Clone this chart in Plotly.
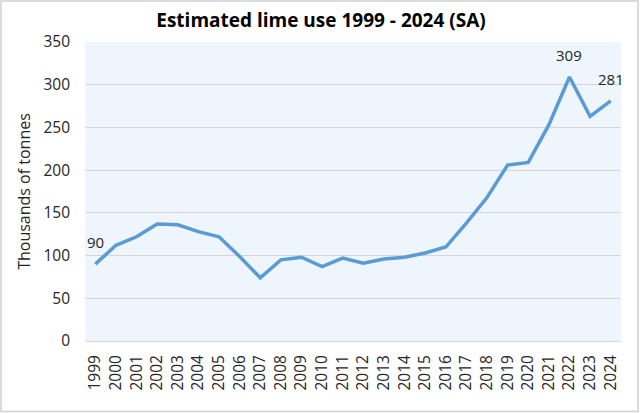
import plotly.graph_objects as go

years = list(range(1999, 2025))
lime_use = [90, 112, 122, 137, 136, 128, 122, 99, 74, 95, 98, 87, 97, 91, 96, 98, 103, 110, 138, 168, 206, 209, 253, 309, 263, 281]
labelled_years = [1999, 2022, 2024]
y_ticks = [0, 50, 100, 150, 200, 250, 300, 350]

FONT = "Open Sans"
W, H = 642, 413
L, R, T, B = 85, 21, 42, 72
pw, ph = W - L - R, H - T - B

fig = go.Figure()
fig.add_trace(go.Scatter(
    x=years, y=lime_use, mode="lines",
    line=dict(color="#5B9BD5", width=3.5),
    hoverinfo="x+y", showlegend=False,
))

for yr in labelled_years:
    v = lime_use[years.index(yr)]
    fig.add_annotation(x=yr, y=v, text=str(v), showarrow=False,
                       yanchor="middle", yshift=22,
                       font=dict(family=FONT, size=15, color="#262626"))

def px_to_paper_x(px):
    return (px - L) / pw

def px_to_paper_y(py):
    return (H - B - py) / ph

# outer chart border
fig.add_shape(type="rect", xref="paper", yref="paper",
              x0=px_to_paper_x(1), x1=px_to_paper_x(638),
              y0=px_to_paper_y(411.5), y1=px_to_paper_y(1),
              line=dict(color="#D0D0D0", width=1.5), layer="below")

fig.update_layout(
    width=W, height=H,
    margin=dict(l=L, r=R, t=T, b=B),
    paper_bgcolor="white",
    plot_bgcolor="#EEF5FC",
    title=dict(text="<b>Estimated lime use 1999 - 2024 (SA)</b>",
               x=0.5, xanchor="center", y=1 - 20 / H, yanchor="middle",
               font=dict(family=FONT, size=19, color="#000000")),
    font=dict(family=FONT, size=15, color="#262626"),
    xaxis=dict(
        range=[1998.5, 2024.5], tickmode="array", tickvals=years,
        ticktext=[str(y) for y in years], tickangle=-90,
        showgrid=False, zeroline=False, showline=False,
        ticks="", ticklabelstandoff=10,
        tickfont=dict(family=FONT, size=15.5, color="#262626"),
    ),
    yaxis=dict(
        range=[0, 350], tickmode="array", tickvals=y_ticks,
        showgrid=True, gridcolor="#D6D6D6", gridwidth=1,
        zeroline=True, zerolinecolor="#D6D6D6", zerolinewidth=1,
        showline=False, ticks="", ticklabelstandoff=14,
        tickfont=dict(family=FONT, size=15.5, color="#262626"),
        title=dict(text="Thousands of tonnes", standoff=8,
                   font=dict(family=FONT, size=16, color="#262626")),
    ),
)

fig.write_html("out.html", config={"displayModeBar": False})
with open("out.html", "r", encoding="utf-8") as f:
    html = f.read()
html = html.replace("<head>", "<head><style>html,body{margin:0;padding:0;overflow:hidden;}</style>", 1)
with open("out.html", "w", encoding="utf-8") as f:
    f.write(html)
